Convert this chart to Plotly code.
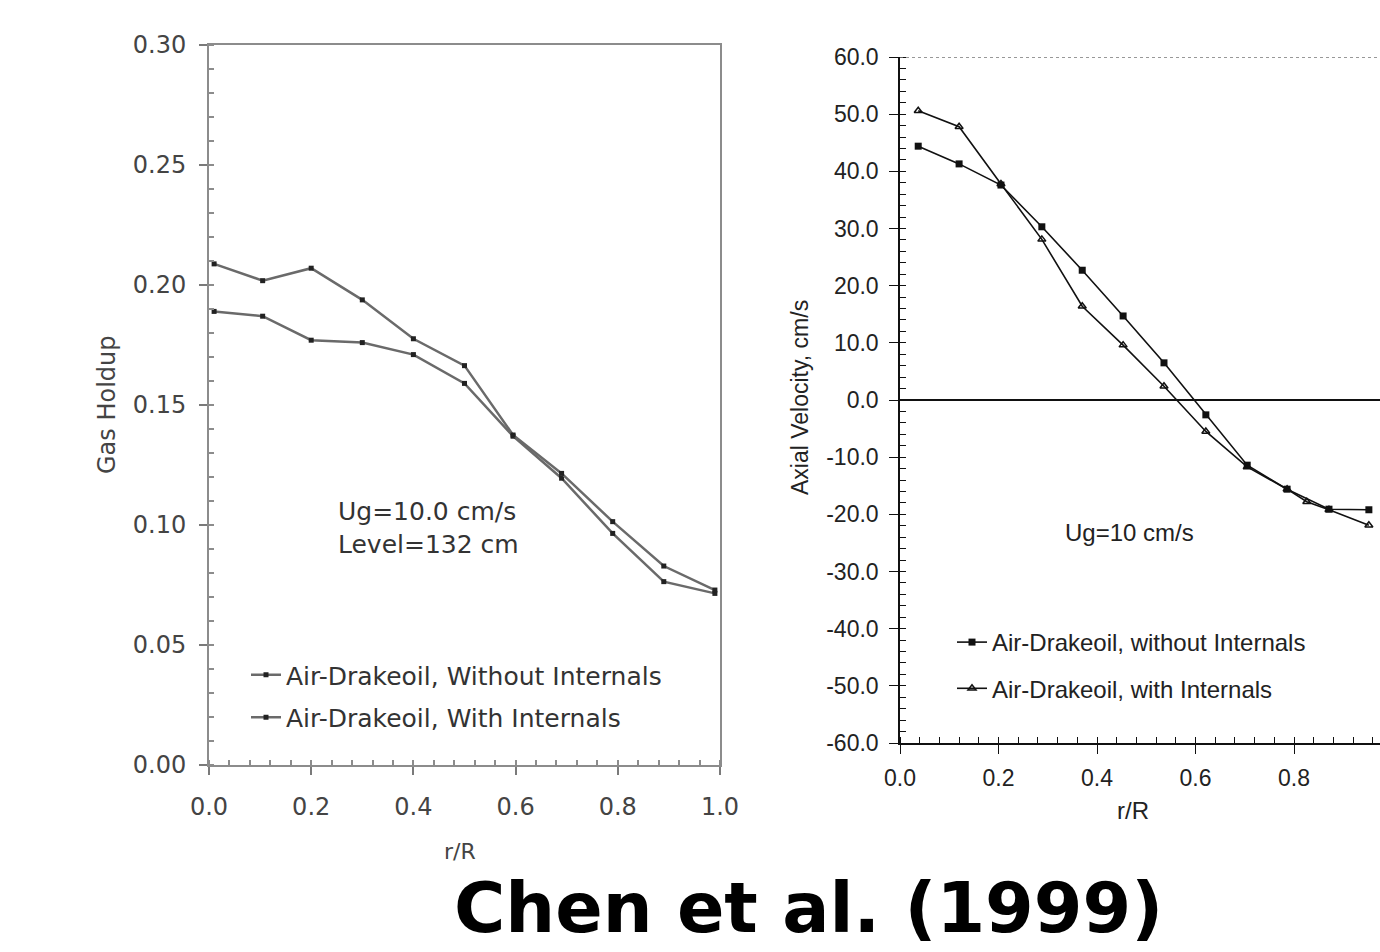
import plotly.graph_objects as go

# ---------------- data ----------------
# Left panel: gas holdup vs r/R
holdup_r = [0.01, 0.105, 0.2, 0.3, 0.4, 0.5, 0.595, 0.69, 0.79, 0.89, 0.99]
holdup_without = [0.189, 0.187, 0.177, 0.176, 0.171, 0.159, 0.137, 0.1195, 0.0965, 0.0764, 0.0715]
holdup_with = [0.2088, 0.2018, 0.207, 0.1938, 0.1776, 0.1664, 0.1375, 0.1215, 0.1014, 0.0829, 0.0729]

# Right panel: axial liquid velocity vs r/R
vel_r_without = [0.037, 0.12, 0.205, 0.288, 0.37, 0.453, 0.536, 0.621, 0.705, 0.786, 0.871, 0.952]
vel_without = [44.4, 41.3, 37.6, 30.3, 22.7, 14.7, 6.5, -2.6, -11.4, -15.6, -19.1, -19.2]
vel_r_with = [0.037, 0.12, 0.205, 0.288, 0.37, 0.453, 0.536, 0.621, 0.705, 0.786, 0.826, 0.871, 0.952]
vel_with = [50.6, 47.8, 37.8, 28.1, 16.4, 9.6, 2.4, -5.5, -11.7, -15.6, -17.8, -19.2, -21.9]

# tick labels
left_x_ticks = [0.0, 0.2, 0.4, 0.6, 0.8, 1.0]
left_x_labels = ["0.0", "0.2", "0.4", "0.6", "0.8", "1.0"]
left_y_ticks = [0.0, 0.05, 0.10, 0.15, 0.20, 0.25, 0.30]
left_y_labels = ["0.00", "0.05", "0.10", "0.15", "0.20", "0.25", "0.30"]
right_x_ticks = [0.0, 0.2, 0.4, 0.6, 0.8]
right_x_labels = ["0.0", "0.2", "0.4", "0.6", "0.8"]
right_y_ticks = [60, 50, 40, 30, 20, 10, 0, -10, -20, -30, -40, -50, -60]
right_y_labels = ["60.0", "50.0", "40.0", "30.0", "20.0", "10.0", "0.0", "-10.0",
                  "-20.0", "-30.0", "-40.0", "-50.0", "-60.0"]

W, H = 1380, 952
LF = "DejaVu Sans"
RF = "Liberation Sans, Arial, sans-serif"

fig = go.Figure()

fig.add_trace(go.Scatter(
    x=holdup_r, y=holdup_without, mode="lines+markers",
    name="Air-Drakeoil, Without Internals",
    line=dict(color="#6a6a6a", width=2.5),
    marker=dict(symbol="square", size=5, color="#222222"),
    xaxis="x", yaxis="y", legend="legend", legendgroup="a"))
fig.add_trace(go.Scatter(
    x=holdup_r, y=holdup_with, mode="lines+markers",
    name="Air-Drakeoil, With Internals",
    line=dict(color="#6a6a6a", width=2.5),
    marker=dict(symbol="square", size=5, color="#222222"),
    xaxis="x", yaxis="y", legend="legend", legendgroup="b"))

fig.add_trace(go.Scatter(
    x=vel_r_without, y=vel_without, mode="lines+markers",
    name="Air-Drakeoil, without Internals",
    line=dict(color="#111111", width=1.6),
    marker=dict(symbol="square", size=7, color="#111111"),
    xaxis="x2", yaxis="y2", legend="legend2", legendgroup="c"))
fig.add_trace(go.Scatter(
    x=vel_r_with, y=vel_with, mode="lines+markers",
    name="Air-Drakeoil, with Internals",
    line=dict(color="#111111", width=1.6),
    marker=dict(symbol="triangle-up-open", size=7, color="#111111",
                line=dict(width=1.5, color="#111111")),
    xaxis="x2", yaxis="y2", legend="legend2", legendgroup="d"))

left_axis_common = dict(showline=True, linecolor="#8c8c8c", linewidth=2, mirror=True,
                        showgrid=False, zeroline=False, ticks="outside", ticklen=8,
                        tickcolor="#7a7a7a", tickwidth=1.5, automargin=False,
                        tickfont=dict(family=LF, size=24, color="#444444"))
right_axis_common = dict(showline=True, linecolor="#111111", linewidth=1.5,
                         showgrid=False, ticks="outside", ticklen=9, automargin=False,
                         tickcolor="#111111", tickwidth=1.3,
                         tickfont=dict(family=RF, size=23, color="#222222"))

fig.update_layout(
    width=W, height=H,
    margin=dict(l=0, r=0, t=0, b=0, pad=0, autoexpand=False),
    paper_bgcolor="white", plot_bgcolor="white",
    xaxis=dict(domain=[209 / W, 720 / W], range=[0, 1], anchor="y",
               tickmode="array", tickvals=left_x_ticks, ticktext=left_x_labels,
               ticklabelstandoff=11,
               minor=dict(tickmode="linear", tick0=0, dtick=0.04, ticks="inside",
                          ticklen=5, tickcolor="#8c8c8c"),
               **left_axis_common),
    yaxis=dict(domain=[1 - 765 / H, 1 - 45 / H], range=[0, 0.30], anchor="x",
               tickmode="array", tickvals=left_y_ticks, ticktext=left_y_labels,
               ticklabelstandoff=8,
               minor=dict(tickmode="linear", tick0=0, dtick=0.01, ticks="inside",
                          ticklen=5, tickcolor="#8c8c8c"),
               **left_axis_common),
    xaxis2=dict(domain=[900 / W, 1.0], range=[0, 0.9746], anchor="y2",
                tickmode="array", tickvals=right_x_ticks, ticktext=right_x_labels,
                ticklabelstandoff=5, zeroline=False,
                minor=dict(tickmode="linear", tick0=0, dtick=0.04, ticks="inside",
                           ticklen=6, tickcolor="#111111"),
                **right_axis_common),
    yaxis2=dict(domain=[1 - 743 / H, 1 - 57 / H], range=[-60, 60], anchor="x2",
                tickmode="array", tickvals=right_y_ticks, ticktext=right_y_labels,
                ticklabelstandoff=6,
                zeroline=True, zerolinecolor="#111111", zerolinewidth=1.5,
                minor=dict(tickmode="linear", tick0=-60, dtick=2, ticks="inside",
                           ticklen=6, tickcolor="#111111"),
                **right_axis_common),
    legend=dict(x=246 / W, y=1 - 652 / H, xanchor="left", yanchor="top",
                bgcolor="rgba(0,0,0,0)", traceorder="grouped", tracegroupgap=7,
                font=dict(family=LF, size=25, color="#333333")),
    legend2=dict(x=952 / W, y=1 - 620 / H, xanchor="left", yanchor="top",
                 bgcolor="rgba(0,0,0,0)", traceorder="grouped", tracegroupgap=12,
                 font=dict(family=RF, size=24, color="#222222")),
    showlegend=True,
)

# dotted top frame of right panel
fig.add_shape(type="line", xref="x2 domain", yref="y2", x0=0, x1=1, y0=60, y1=60,
              line=dict(color="#777777", width=1.5, dash="dot"))

ann = []
ann.append(dict(text="Ug=10.0 cm/s", xref="x", yref="y", x=0.2485, y=0.1058,
                xanchor="left", yanchor="middle", showarrow=False,
                font=dict(family=LF, size=25, color="#333333")))
ann.append(dict(text="Level=132 cm", xref="x", yref="y", x=0.2485, y=0.0917,
                xanchor="left", yanchor="middle", showarrow=False,
                font=dict(family=LF, size=25, color="#333333")))
ann.append(dict(text="Ug=10 cm/s", xref="x2", yref="y2", x=0.465, y=-23.1,
                xanchor="center", yanchor="middle", showarrow=False,
                font=dict(family=RF, size=24, color="#222222")))
ann.append(dict(text="r/R", xref="paper", yref="paper", x=460 / W, y=1 - 851 / H,
                xanchor="center", yanchor="middle", showarrow=False,
                font=dict(family=LF, size=22, color="#444444")))
ann.append(dict(text="r/R", xref="paper", yref="paper", x=1133 / W, y=1 - 810 / H,
                xanchor="center", yanchor="middle", showarrow=False,
                font=dict(family=RF, size=24, color="#222222")))
ann.append(dict(text="Gas Holdup", xref="paper", yref="paper", x=107 / W, y=1 - 405 / H,
                xanchor="center", yanchor="middle", textangle=-90, showarrow=False,
                font=dict(family=LF, size=24, color="#444444")))
ann.append(dict(text="Axial Velocity, cm/s", xref="paper", yref="paper", x=800 / W,
                y=1 - 398 / H, xanchor="center", yanchor="middle", textangle=-90,
                showarrow=False, font=dict(family=RF, size=23, color="#222222")))
ann.append(dict(text="<b>Chen et al. (1999)</b>", xref="paper", yref="paper",
                x=808 / W, y=1 - 908 / H, xanchor="center", yanchor="middle",
                showarrow=False, font=dict(family="DejaVu Sans", size=70, color="#000000")))
fig.update_layout(annotations=ann)

fig.write_html("out.html")
